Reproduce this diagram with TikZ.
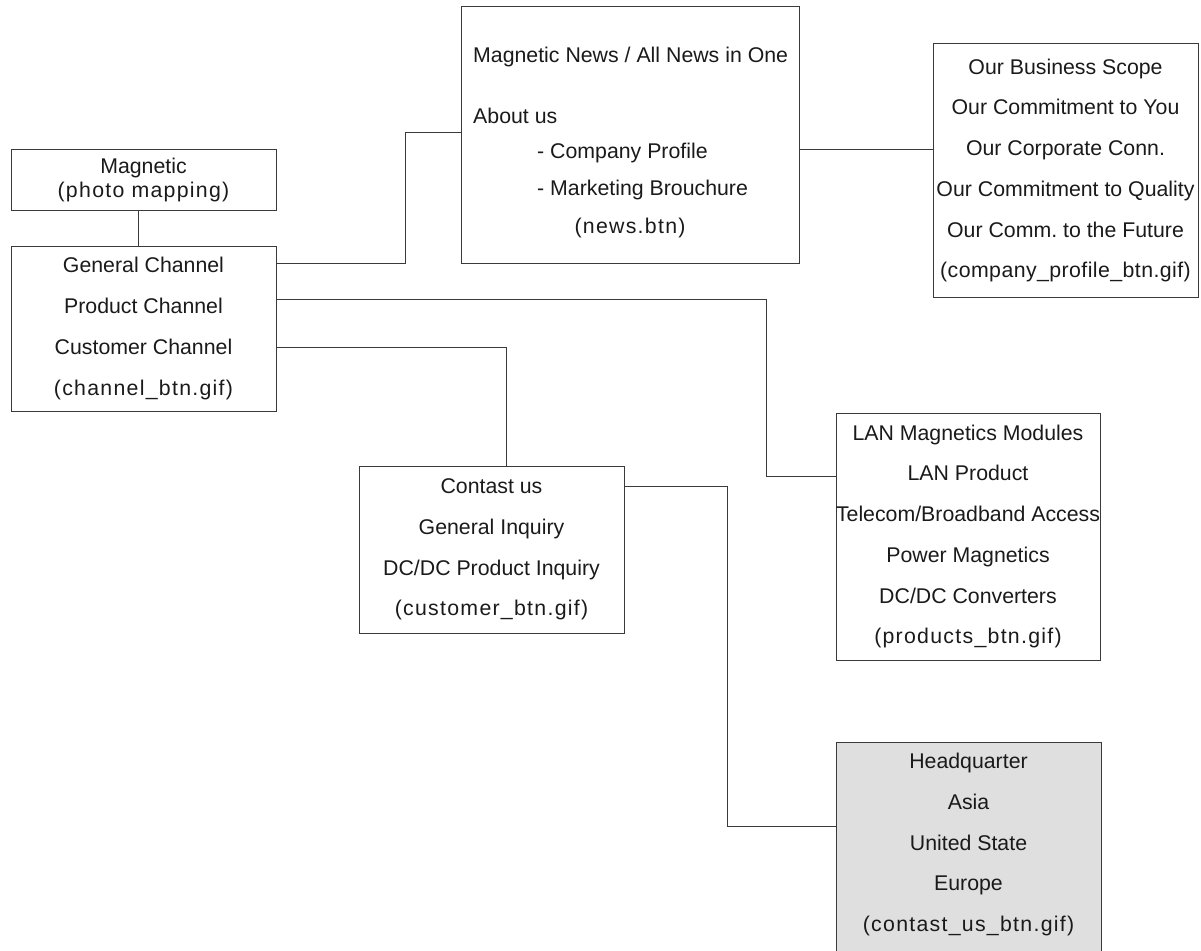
\documentclass[tikz,border=0pt]{standalone}
\usepackage{fontspec}
\setmainfont{Liberation Sans}
\newfontfamily\trk[LetterSpace=6]{Liberation Sans}
\newfontfamily\trklight[LetterSpace=2]{Liberation Sans}
\usetikzlibrary{calc}
\frenchspacing
\definecolor{linegray}{HTML}{3A3A3A}
\definecolor{textgray}{HTML}{1A1A1A}
\definecolor{hqfill}{HTML}{DFDFDF}
\newcommand\bodyfont{\fontsize{21.3}{40.7}\selectfont}
\newcommand\tightfont{\fontsize{21.3}{24}\selectfont}
\tikzset{
  box/.style={draw=linegray, line width=1pt, inner sep=0pt, align=center,
    font=\bodyfont, text=textgray},
  plain/.style={inner sep=0pt, font=\tightfont, text=textgray},
  wire/.style={draw=linegray, line width=1pt},
}
\begin{document}
\begin{tikzpicture}[x=1pt,y=-1pt]
\useasboundingbox (0,0) rectangle (1201,950);
% boxes
\node[box, font=\tightfont, minimum width=265, minimum height=61] (mag) at (143.5,179.5)
  {Magnetic\\{\trk(photo mapping)}};
\node[box, minimum width=265, minimum height=165] (chan) at (143.5,328.5)
  {General Channel\\Product Channel\\Customer Channel\\{\trk(channel\_btn.gif)}};
\node[box, minimum width=338, minimum height=256] (news) at (630,135) {};
\node[box, minimum width=265, minimum height=253] (comp) at (1065.5,170.5)
  {Our Business Scope\\Our Commitment to You\\Our Corporate Conn.\\Our Commitment to Quality\\Our Comm. to the Future\\{\trklight(company\_profile\_btn.gif)}};
\node[box, minimum width=264, minimum height=247] (lan) at (968,536.5)
  {LAN Magnetics Modules\\LAN Product\\Telecom/Broadband Access\\Power Magnetics\\DC/DC Converters\\{\trk(products\_btn.gif)}};
\node[box, minimum width=265, minimum height=167] (contact) at (491.5,549.5)
  {Contast us\\General Inquiry\\DC/DC Product Inquiry\\{\trk(customer\_btn.gif)}};
\node[box, fill=hqfill, minimum width=265, minimum height=211] (hq) at (968.5,847.5) {};
\node[plain, align=center, font=\bodyfont] (hqtext) at (968.5,844.5)
  {Headquarter\\Asia\\United State\\Europe\\{\trk(contast\_us\_btn.gif)}};
% news box text
\node[plain, anchor=base west] (n1) at (473,63) {Magnetic News / All News in One};
\node[plain, anchor=base west] (n2) at (473,123) {About us};
\node[plain, anchor=base west] (n3) at (537,158) {- Company Profile};
\node[plain, anchor=base west] (n4) at (537,195) {- Marketing Brouchure};
\node[plain, anchor=base, font=\trk\tightfont] (n5) at (630,233) {(news.btn)};
% routing coordinates
\coordinate (c1) at (405,132);
\coordinate (c2) at (766,476);
\coordinate (c3) at (506,347);
\coordinate (c4) at (727,826);
% connectors
\draw[wire] ([xshift=-5pt]mag.south) -- ([xshift=-5pt]chan.north);
\draw[wire] (chan.east |- {(0,263)}) -| (c1) -- (news.west |- c1);
\draw[wire] (news.east |- {(0,149)}) -- (comp.west |- {(0,149)});
\draw[wire] (chan.east |- {(0,299)}) -| (c2) -- (lan.west |- c2);
\draw[wire] (chan.east |- c3) -| (contact.north -| c3);
\draw[wire] (contact.east |- {(0,486)}) -| (c4) -- (hq.west |- c4);
\end{tikzpicture}
\end{document}
